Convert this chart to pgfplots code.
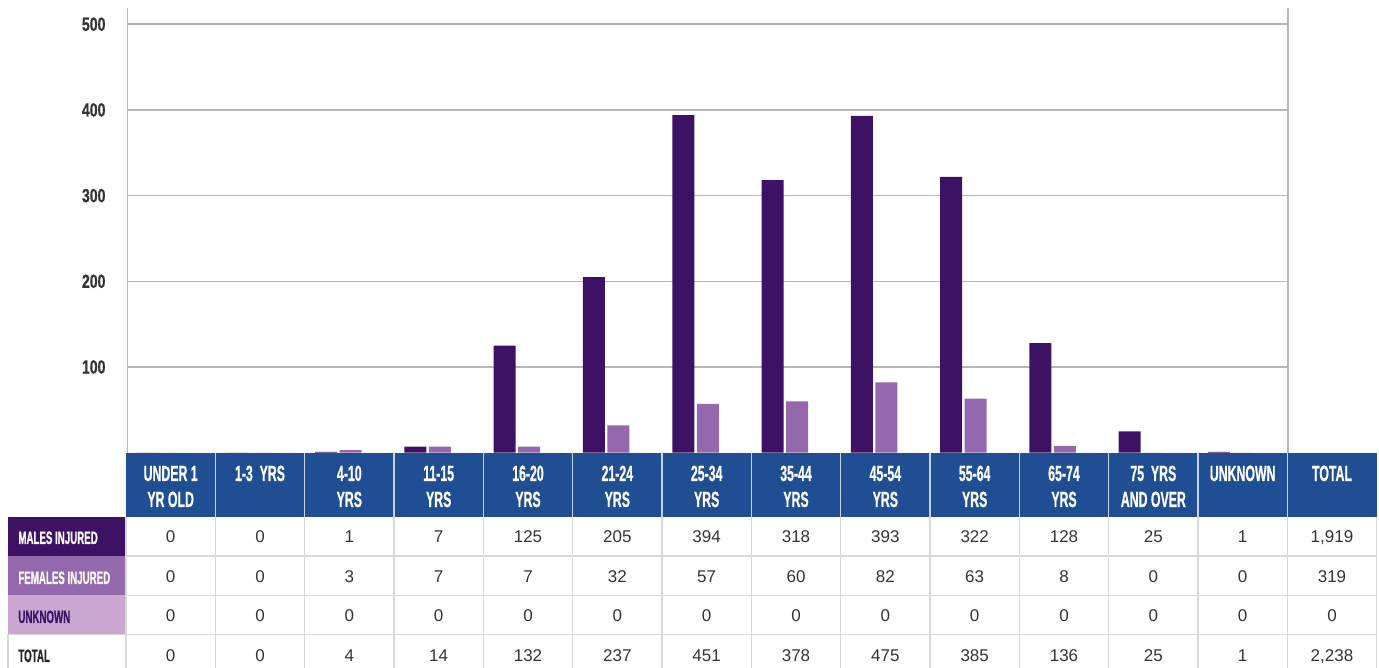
\documentclass[border=0pt]{standalone}
\usepackage{pgfplots}
\pgfplotsset{compat=1.18}
\usepackage{pgfplotstable}
\usepackage{fontspec}
\setmainfont{Liberation Sans}
\newfontfamily\hfont[FakeStretch=0.56, BoldFeatures={FakeBold=0.6}]{Liberation Sans}
\newfontfamily\rfont[FakeStretch=0.54, BoldFeatures={FakeBold=0.6}]{Liberation Sans}
\newfontfamily\tfont[FakeStretch=0.74, BoldFeatures={FakeBold=0.6}]{Liberation Sans}
\definecolor{male}{HTML}{3D1264}
\definecolor{female}{HTML}{9368AC}
\definecolor{unk}{HTML}{C9A7D0}
\definecolor{hblue}{HTML}{1F4E93}
\definecolor{gridc}{HTML}{B5B5B8}
\definecolor{cellc}{HTML}{D8D8D8}
\definecolor{tickc}{HTML}{333333}
\definecolor{numc}{HTML}{333333}

\pgfplotstableread{
x males females unknown
0 0 0 0
1 0 0 0
2 1 3 0
3 7 7 0
4 125 7 0
5 205 32 0
6 394 57 0
7 318 60 0
8 393 82 0
9 322 63 0
10 128 8 0
11 25 0 0
12 1 0 0
}\data

\begin{document}
\begin{tikzpicture}
\useasboundingbox (0,0) rectangle (689.5pt,334pt);
\begin{axis}[
  at={(63.75pt,107.65pt)}, anchor=south west,
  scale only axis, width=580.25pt, height=222.35pt,
  xmin=-0.5, xmax=12.5, ymin=0, ymax=519,
  axis line style={draw=none},
  xtick=\empty, ytick={100,200,300,400,500},
  ymajorgrids, grid style={gridc, line width=0.8pt},
  major tick length=0pt,
  yticklabel style={font=\tfont\bfseries\fontsize{9.5}{9.5}\selectfont, text=tickc, xshift=-7.5pt},
  /pgf/number format/assume math mode=true,
  extra x ticks={-0.5,12.5}, extra x tick labels={},
  extra x tick style={grid=major},
  clip=false,
]
\addplot[ybar, bar width=11pt, bar shift=-12.25pt, fill=male, draw=none] table[x=x,y=males]{\data};
\addplot[ybar, bar width=11pt, bar shift=0pt, fill=female, draw=none] table[x=x,y=females]{\data};
\addplot[ybar, bar width=11pt, bar shift=12.25pt, fill=unk, draw=none] table[x=x,y=unknown]{\data};
\end{axis}

\begin{scope}[shift={(0,334pt)}, x=0.5pt, y=-0.5pt]
\clip (0,0) rectangle (1379,668);
\fill[hblue] (126,452.7) rectangle (1377,517.3);
\fill[male] (8,517.3) rectangle (126,556);
\fill[female] (8,556) rectangle (126,595.5);
\fill[unk] (8,595.5) rectangle (126,634.5);
\foreach \i in {0,...,14} \draw[cellc, line width=0.8pt] ({126+89.333*\i},517.3) -- ({126+89.333*\i},668);
\foreach \y in {556,595.5,634.5} \draw[cellc, line width=0.8pt] (126,\y) -- (1377,\y);
\draw[cellc, line width=0.8pt] (8,634.5) -- (126,634.5);
\draw[cellc, line width=0.8pt] (8,634.5) -- (8,668);
\foreach \i in {1,...,13} \draw[white!75!hblue, line width=0.8pt] ({126+89.333*\i},452.7) -- ({126+89.333*\i},517.3);

\foreach \i/\a/\b in {0/UNDER 1/YR OLD, 1/1-3\ \ YRS/, 2/4-10/YRS, 3/11-15/YRS, 4/16-20/YRS, 5/21-24/YRS, 6/25-34/YRS, 7/35-44/YRS, 8/45-54/YRS, 9/55-64/YRS, 10/65-74/YRS, 11/75\ \ YRS/AND OVER, 12/UNKNOWN/, 13/TOTAL/} {
  \node[anchor=base, text=white, inner sep=0pt, font=\hfont\bfseries\fontsize{11}{11}\selectfont] at ({126+89.333*(\i+0.5)},481) {\a};
  \node[anchor=base, text=white, inner sep=0pt, font=\hfont\bfseries\fontsize{11}{11}\selectfont] at ({126+89.333*(\i+0.5)},507) {\b};
}

\node[anchor=base west, inner sep=0pt, text=white, font=\rfont\bfseries\fontsize{9}{9}\selectfont] at (18,544) {MALES INJURED};
\node[anchor=base west, inner sep=0pt, text=white, font=\rfont\bfseries\fontsize{9}{9}\selectfont] at (18,584) {FEMALES INJURED};
\node[anchor=base west, inner sep=0pt, text=male, font=\rfont\bfseries\fontsize{9}{9}\selectfont] at (18,623) {UNKNOWN};
\node[anchor=base west, inner sep=0pt, text=black!85, font=\rfont\bfseries\fontsize{9}{9}\selectfont] at (18,662) {TOTAL};

\foreach \v [count=\i from 0] in {0,0,1,7,125,205,394,318,393,322,128,25,1,{1,919}}
  \node[anchor=base, inner sep=0pt, text=numc, font=\fontsize{8.5}{8.5}\selectfont] at ({126+89.333*(\i+0.5)},543) {\v};
\foreach \v [count=\i from 0] in {0,0,3,7,7,32,57,60,82,63,8,0,0,319}
  \node[anchor=base, inner sep=0pt, text=numc, font=\fontsize{8.5}{8.5}\selectfont] at ({126+89.333*(\i+0.5)},583) {\v};
\foreach \v [count=\i from 0] in {0,0,0,0,0,0,0,0,0,0,0,0,0,0}
  \node[anchor=base, inner sep=0pt, text=numc, font=\fontsize{8.5}{8.5}\selectfont] at ({126+89.333*(\i+0.5)},622) {\v};
\foreach \v [count=\i from 0] in {0,0,4,14,132,237,451,378,475,385,136,25,1,{2,238}}
  \node[anchor=base, inner sep=0pt, text=numc, font=\fontsize{8.5}{8.5}\selectfont] at ({126+89.333*(\i+0.5)},662) {\v};
\end{scope}
\end{tikzpicture}
\end{document}
